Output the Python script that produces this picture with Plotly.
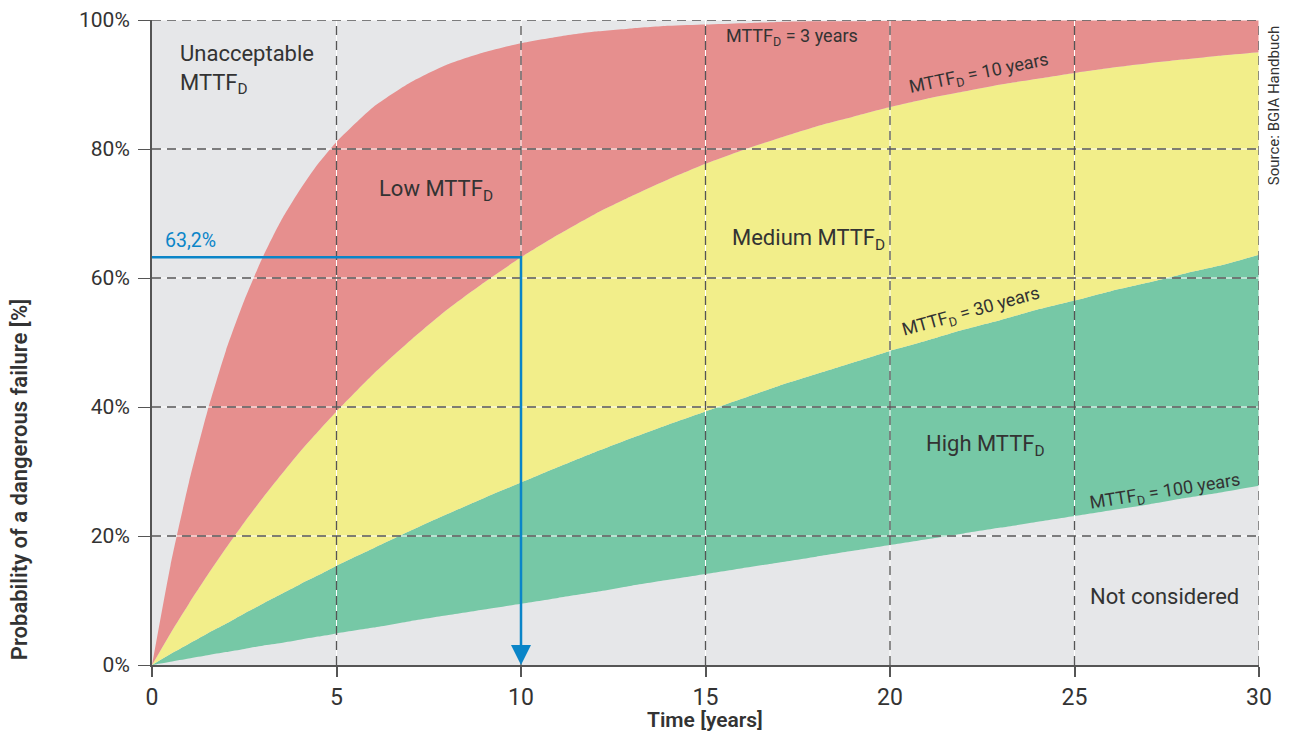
import plotly.graph_objects as go

# time axis [years]
t = [0, 0.5, 1, 1.5, 2, 2.5, 3, 3.5, 4, 4.5, 5, 6, 7, 8, 9, 10, 11, 12, 13, 14, 15,
     16, 17, 18, 19, 20, 21, 22, 23, 24, 25, 26, 27, 28, 29, 30]

# probability of a dangerous failure [%]
p_mttf3 = [0, 15.4, 28.3, 39.3, 48.7, 56.5, 63.2, 68.9, 73.6, 77.7, 81.1, 86.5,
           90.3, 93.1, 95.0, 96.4, 97.4, 98.2, 98.7, 99.1, 99.3, 99.5, 99.7,
           99.8, 99.8, 99.9, 99.9, 99.9, 100, 100, 100, 100, 100, 100, 100, 100]
p_mttf10 = [0, 4.9, 9.5, 13.9, 18.1, 22.1, 25.9, 29.5, 33.0, 36.2, 39.3, 45.1,
            50.3, 55.1, 59.3, 63.2, 66.7, 69.9, 72.7, 75.3, 77.7, 79.8, 81.7,
            83.5, 85.0, 86.5, 87.8, 88.9, 90.0, 90.9, 91.8, 92.6, 93.3, 93.9,
            94.5, 95.0]
p_mttf30 = [0, 1.7, 3.3, 4.9, 6.4, 8.0, 9.5, 11.0, 12.5, 13.9, 15.4, 18.1,
            20.8, 23.4, 25.9, 28.3, 30.7, 33.0, 35.2, 37.3, 39.3, 41.3, 43.3,
            45.1, 46.9, 48.7, 50.3, 52.0, 53.5, 55.1, 56.5, 58.0, 59.3, 60.7,
            62.0, 63.6]
p_mttf100 = [0, 0.5, 1.0, 1.5, 2.0, 2.5, 3.0, 3.4, 3.9, 4.4, 4.9, 5.8, 6.8,
             7.7, 8.6, 9.5, 10.4, 11.3, 12.3, 13.2, 14.1, 15.0, 15.9, 16.8,
             17.7, 18.6, 19.5, 20.4, 21.3, 22.2, 23.1, 24.0, 24.9, 25.9, 26.8,
             27.8]

# example reading: MTTFd = 10 years -> 63,2 % after 10 years
ex_t = 10
ex_p = 63.2

x_ticks = [0, 5, 10, 15, 20, 25, 30]
y_ticks = [0, 20, 40, 60, 80, 100]
y_tick_text = ["0%", "20%", "40%", "60%", "80%", "100%"]

GREY = "#E6E7E9"
RED = "#E68F8E"
YELLOW = "#F2EE8A"
GREEN = "#76C8A6"
BLUE = "#0A85C8"
TXT = "#333333"
FONT = "Roboto, Arial, sans-serif"

fig = go.Figure()

band = dict(width=0, shape="spline", smoothing=0.6)
fig.add_trace(go.Scatter(x=t, y=p_mttf100, mode="lines", line=band,
                         hoverinfo="skip", showlegend=False))
fig.add_trace(go.Scatter(x=t, y=p_mttf30, mode="lines", line=band,
                         fill="tonexty", fillcolor=GREEN, showlegend=False))
fig.add_trace(go.Scatter(x=t, y=p_mttf10, mode="lines", line=band,
                         fill="tonexty", fillcolor=YELLOW, showlegend=False))
fig.add_trace(go.Scatter(x=t, y=p_mttf3, mode="lines", line=band,
                         fill="tonexty", fillcolor=RED, showlegend=False))

# grid drawn above the fills: white line with dark dashes on it
gx, gy = [], []
for xv in x_ticks[1:]:
    gx += [xv, xv, None]
    gy += [0, 100, None]
for yv in y_ticks[1:]:
    gx += [0, 30, None]
    gy += [yv, yv, None]
fig.add_trace(go.Scatter(x=gx, y=gy, mode="lines", hoverinfo="skip",
                         line=dict(color="white", width=1), showlegend=False,
                         cliponaxis=False))
fig.add_trace(go.Scatter(x=gx, y=gy, mode="lines", hoverinfo="skip",
                         line=dict(color="#555555", width=1.3, dash="9px,6px"),
                         showlegend=False, cliponaxis=False))

# blue reading line and arrow
fig.add_trace(go.Scatter(x=[0, ex_t, ex_t], y=[ex_p, ex_p, 2], mode="lines",
                         line=dict(color=BLUE, width=2.5), showlegend=False,
                         cliponaxis=False))
fig.add_trace(go.Scatter(x=[ex_t], y=[0], mode="markers",
                         marker=dict(symbol="arrow-down", size=20, color=BLUE,
                                     line=dict(width=0)),
                         showlegend=False, cliponaxis=False))

ann = []
def label(x, y, text, size=22, angle=0, color=TXT, xanchor="center", align="center"):
    ann.append(dict(x=x, y=y, xref="x", yref="y", text=text, showarrow=False,
                    textangle=angle, xanchor=xanchor, yanchor="middle", align=align,
                    font=dict(family=FONT, size=size, color=color)))

label(0.7, 92.4, "Unacceptable<br>MTTF<sub>D</sub>", xanchor="left", align="left")
label(7.7, 73.6, "Low MTTF<sub>D</sub>")
label(17.8, 66.0, "Medium MTTF<sub>D</sub>")
label(22.6, 34.0, "High MTTF<sub>D</sub>")
label(27.45, 10.6, "Not considered")
label(17.35, 97.4, "MTTF<sub>D</sub> = 3 years", size=18)
label(22.4, 91.6, "MTTF<sub>D</sub> = 10 years", size=18, angle=-11.5)
label(22.2, 54.8, "MTTF<sub>D</sub> = 30 years", size=18, angle=-15.5)
label(27.45, 26.9, "MTTF<sub>D</sub> = 100 years", size=18, angle=-9)
label(0.3, 65.8, "63,2%", size=19.5, color=BLUE, xanchor="left")

ann.append(dict(x=1.0136, y=0.868, xref="paper", yref="paper",
                text="Source: BGIA Handbuch", showarrow=False, textangle=-90,
                xanchor="center", yanchor="middle",
                font=dict(family=FONT, size=15, color=TXT)))
ann.append(dict(x=-0.119, y=0.287, xref="paper", yref="paper",
                text="Probability of a dangerous failure [%]", showarrow=False,
                textangle=-90, xanchor="center", yanchor="middle",
                font=dict(family=FONT, size=22, color=TXT, weight=600)))
ann.append(dict(x=0.4995, y=-0.086, xref="paper", yref="paper",
                text="Time [years]", showarrow=False,
                xanchor="center", yanchor="middle",
                font=dict(family=FONT, size=21, color=TXT, weight=600)))

# the page adds an 8 px body margin, so the figure is sized to fit the window
fig.update_layout(
    width=1277, height=727,
    margin=dict(l=144, r=26, t=12, b=70),
    paper_bgcolor="white",
    plot_bgcolor=GREY,
    annotations=ann,
    font=dict(family=FONT, size=21, color=TXT),
)
fig.update_xaxes(range=[0, 30], tickvals=x_ticks, showgrid=False, zeroline=False,
                 automargin=False,
                 showline=True, linecolor="#555555", linewidth=2,
                 ticks="outside", ticklen=10, tickcolor="#555555", tickwidth=1.5,
                 tickfont=dict(family=FONT, size=23, color=TXT))
fig.update_yaxes(range=[0, 100], tickvals=y_ticks, ticktext=y_tick_text,
                 showgrid=False, zeroline=False, automargin=False,
                 showline=True, linecolor="#555555", linewidth=2,
                 ticks="outside", ticklen=12, tickcolor="#555555", tickwidth=1.3,
                 ticklabelstandoff=4,
                 tickfont=dict(family=FONT, size=21, color=TXT))

fig.write_html("out.html")
